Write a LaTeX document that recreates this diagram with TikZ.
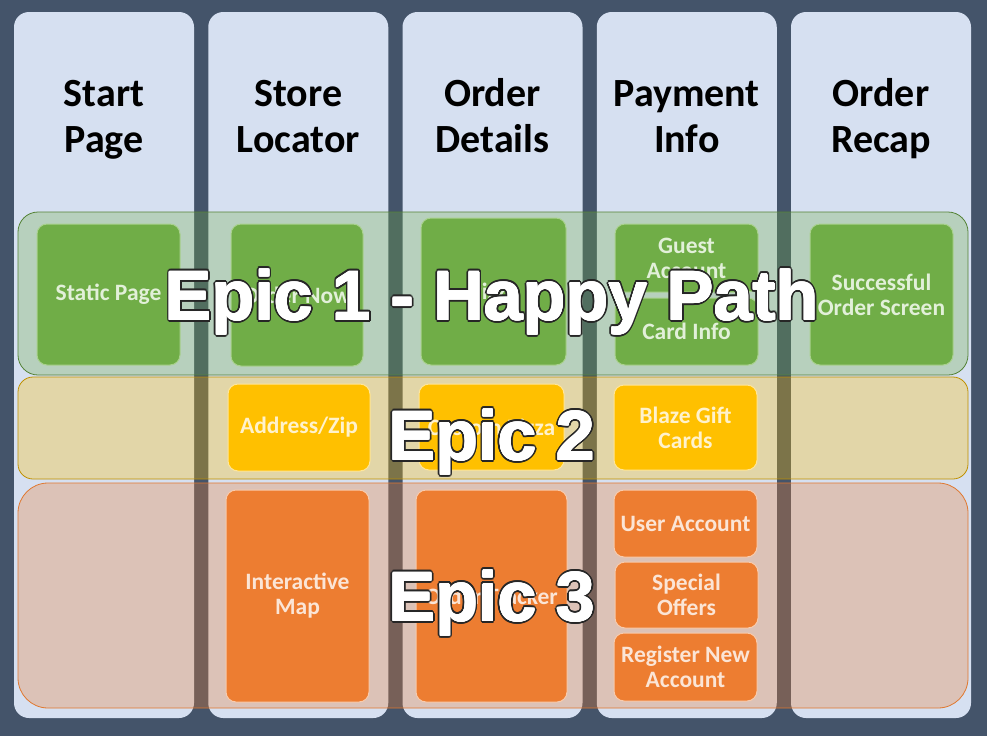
\documentclass[tikz,border=0pt]{standalone}
\usepackage{fontspec}
\setmainfont{Carlito}
\newfontfamily\epicfont{Liberation Sans}

\definecolor{slate}{HTML}{44546A}
\definecolor{colfill}{HTML}{D6E0F1}
\definecolor{happy}{HTML}{70AD47}
\definecolor{happyline}{HTML}{A9D18E}
\definecolor{happytext}{HTML}{E2F0D9}
\definecolor{happyband}{HTML}{548235}
\definecolor{gold}{HTML}{FFC000}
\definecolor{goldline}{HTML}{FFE699}
\definecolor{goldtext}{HTML}{FFF2CC}
\definecolor{goldband}{HTML}{BF9000}
\definecolor{rust}{HTML}{ED7D31}
\definecolor{rustline}{HTML}{F8CBAD}
\definecolor{rusttext}{HTML}{FBE5D6}
\definecolor{rustband}{HTML}{E0782F}

\begin{document}
\begin{tikzpicture}[x=1pt, y=-1pt,
    column/.style={fill=colfill, rounded corners=15pt},
    header/.style={font=\bfseries\fontsize{40}{46}\selectfont, align=center, text=black, inner sep=0pt},
    band/.style={fill opacity=0.3, rounded corners=#1, line width=0.8pt},
    card/.style={rounded corners=10pt, line width=1pt, align=center, inner sep=2pt,
        font=\bfseries\fontsize{23.5}{25}\selectfont},
    happycard/.style={card, fill=happy, draw=happyline, text=happytext},
    goldcard/.style={card, fill=gold, draw=goldline, text=goldtext},
    rustcard/.style={card, fill=rust, draw=rustline, text=rusttext},
    wh/.style 2 args={minimum width=#1, minimum height=#2},
    epic/.style={font=\epicfont\bfseries\fontsize{70}{70}\selectfont, text=white, inner sep=0pt, anchor=base}
  ]
  \useasboundingbox (0,0) rectangle (987,736);
  \fill[slate] (0,0) rectangle (987,736);

  % Columns
  \foreach \i/\txt in {0/Start\\Page, 1/Store\\Locator, 2/Order\\Details, 3/Payment\\Info, 4/Order\\Recap} {
    \fill[column] ({14+194.25*\i},12) rectangle ++(180,706);
    \node[header] (head\i) at ({104+194.25*\i},120) {\strut\txt\strut};
  }

  % Bands
  \draw[band=20pt, fill=happy, draw=happyband] (18,212) rectangle (968,375);
  \draw[band=15pt, fill=gold, draw=goldband] (18,377) rectangle (968,479);
  \draw[band=30pt, fill=rust, draw=rustband] (18,483) rectangle (968,708);

  % Epic 1 cards
  \node[happycard, wh={143pt}{141pt}] (static) at (108.5,294.5) {Static Page};
  \node[happycard, wh={132pt}{142pt}] (ordernow) at (297,295) {Order Now};
  \node[happycard, wh={145pt}{147pt}] (pizza) at (493.5,291.5) {Pizza};
  \node[happycard, wh={143pt}{68pt}] (guest) at (686.5,258) {Guest\\Account};
  \node[happycard, wh={143pt}{67pt}] (cardinfo) at (686.5,331.5) {Card Info};
  \node[happycard, wh={143pt}{141pt}] (success) at (881.5,294.5) {Successful\\Order Screen};

  % Epic 2 cards
  \node[goldcard, wh={142pt}{87pt}] (address) at (299,427.5) {Address/Zip};
  \node[goldcard, wh={145pt}{86pt}] (custom) at (491.5,427) {Custom Pizza};
  \node[goldcard, wh={143pt}{85pt}] (gift) at (685.5,427.5) {Blaze Gift\\Cards};

  % Epic 3 cards
  \node[rustcard, wh={143pt}{212pt}] (map) at (297.5,596) {Interactive\\Map};
  \node[rustcard, wh={151pt}{212pt}] (tracker) at (491.5,596) {Order Tracker};
  \node[rustcard, wh={143pt}{67pt}] (user) at (685.5,523.5) {User Account};
  \node[rustcard, wh={143pt}{66pt}] (special) at (686.5,595) {Special\\Offers};
  \node[rustcard, wh={143pt}{68pt}] (register) at (685.5,667) {Register New\\Account};

  % Epic labels
  \foreach \name/\y/\txt in {epicone/320/Epic 1 - Happy Path, epictwo/460/Epic 2, epicthree/621/Epic 3} {
    \foreach \a in {0,22.5,...,337.5}
      \node[epic, text=black!85] at ([shift={(\a:2.2pt)}]492,\y) {\txt};
    \foreach \a in {0,45,...,315}
      \node[epic] at ([shift={(\a:0.5pt)}]492,\y) {\txt};
    \node[epic] (\name) at (492,\y) {\txt};
  }
\end{tikzpicture}
\end{document}
